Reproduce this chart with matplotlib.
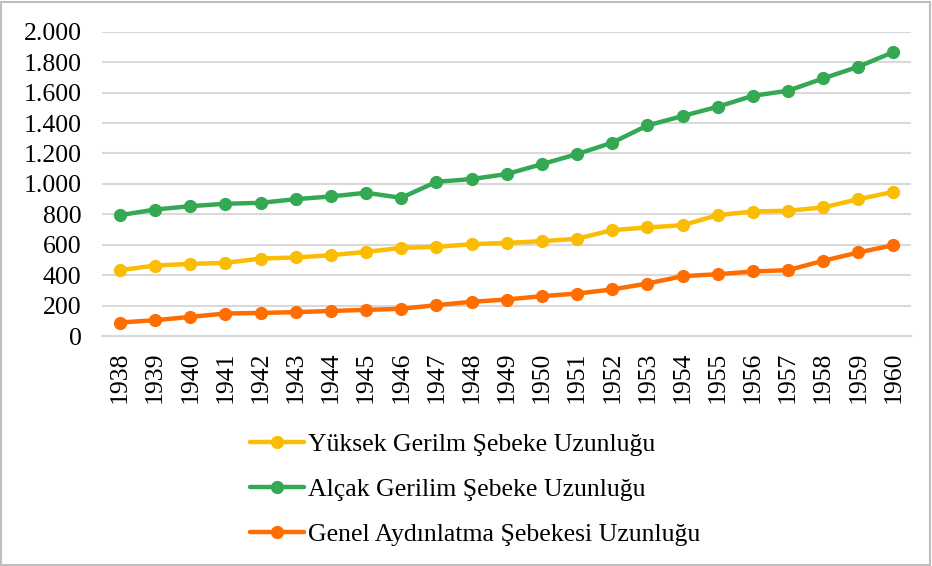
import matplotlib
matplotlib.use("Agg")
import matplotlib.pyplot as plt
from matplotlib.patches import Rectangle
from matplotlib.ticker import FuncFormatter

# Data
years = [str(y) for y in range(1938, 1961)]
yuksek = [434, 464, 475, 482, 510, 517, 532, 554, 580, 587, 604, 613,
          624, 640, 697, 714, 729, 795, 819, 824, 846, 900, 948]
alcak = [795, 832, 854, 870, 876, 900, 918, 942, 909, 1014, 1032, 1065,
         1130, 1196, 1271, 1384, 1446, 1507, 1579, 1612, 1693, 1770, 1866]
genel = [90, 105, 127, 149, 153, 158, 166, 173, 180, 204, 226, 241,
         263, 280, 307, 346, 394, 407, 425, 434, 495, 550, 598]

labels = ["Yüksek Gerilm Şebeke Uzunluğu",
          "Alçak Gerilim Şebeke Uzunluğu",
          "Genel Aydınlatma Şebekesi Uzunluğu"]
colors = ["#FBBC04", "#34A853", "#FF6D01"]

plt.rcParams["font.family"] = ["Liberation Serif", "DejaVu Serif"]

fig = plt.figure(figsize=(9.32, 5.66), dpi=100)
ax = fig.add_axes([0.1099, 0.406, 0.8676, 0.538])

x = range(len(years))
for vals, lab, col in zip([yuksek, alcak, genel], labels, colors):
    ax.plot(x, vals, color=col, lw=3.2, marker="o", markersize=8.5, label=lab,
            solid_capstyle="round")

ax.set_xlim(-0.5, len(years) - 0.5)
ax.set_ylim(0, 2000)
ax.set_yticks(range(0, 2001, 200))
ax.yaxis.set_major_formatter(FuncFormatter(lambda v, p: f"{int(v):,}".replace(",", ".")))
ax.set_xticks(list(x))
ax.set_xticklabels(years, rotation=90)
ax.tick_params(axis="both", length=0, labelsize=18.5, colors="black")
ax.tick_params(axis="y", pad=15)
ax.tick_params(axis="x", pad=11)
ax.grid(axis="y", color="#d9d9d9", lw=1.5)
ax.set_axisbelow(True)
for s in ["top", "right", "left"]:
    ax.spines[s].set_visible(False)
ax.spines["bottom"].set_color("#d9d9d9")
ax.spines["bottom"].set_linewidth(1.5)

fig.legend(loc="upper left", bbox_to_anchor=(0.257, 0.253), frameon=False,
           fontsize=18.5, handlelength=2.1, handletextpad=0.16,
           labelspacing=0.86, borderaxespad=0)

# light frame around the whole chart
fig.patches.append(Rectangle((0.001, 0.002), 0.997, 0.995, transform=fig.transFigure,
                             fill=False, edgecolor="#bfbfbf", lw=1.5))

fig.savefig("out.png", dpi=100)
